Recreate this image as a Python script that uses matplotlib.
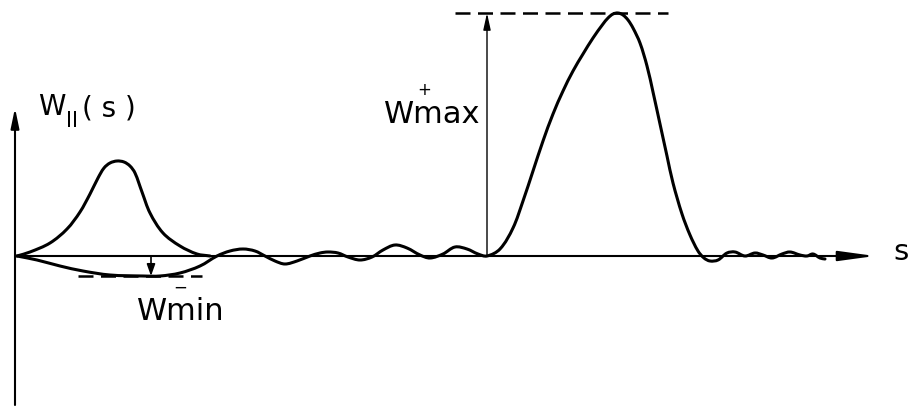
import numpy as np
import matplotlib
matplotlib.use('Agg')
import matplotlib.pyplot as plt
from matplotlib.path import Path
from matplotlib.patches import PathPatch

# wake function W(s)
# (s and W in the same arbitrary units, W measured up from the s axis)
main_s = [17, 37, 60, 83, 110, 143, 160, 180, 200, 217,
          230, 243, 255, 265, 275, 285, 297, 310, 320, 328,
          338, 348, 360, 372, 383, 395, 407, 420, 430, 443,
          455, 467, 478, 487, 500, 513, 523, 533, 543, 553,
          563, 573, 583, 593, 603, 608, 613, 618, 623, 628,
          633, 640, 647, 653, 660, 667, 673, 682, 690, 698,
          704, 710, 718, 727, 735, 745, 755, 763, 772, 782,
          790, 800, 807, 813, 820, 825]
main_w = [0, -4, -10, -15, -19, -20, -20, -17, -10, 0,
          5, 7, 5, 0, -5, -8, -5, 0, 3, 4,
          3, -1, -4, -1, 6, 11, 8, 1, -2, 2,
          9, 7, 2, 0, 7, 28, 55, 85, 115, 142,
          165, 185, 202, 218, 232, 238, 242, 243, 241, 236,
          228, 213, 190, 164, 132, 100, 73, 42, 21, 5,
          -2, -5, -4, 3, 4, 0, 3, 1, -2, 2,
          4, 1, 0, 2, -2, -3]

# the positive bump drawn on the left
bump_s = [17, 30, 50, 67, 80, 90, 98, 104, 110, 117,
          124, 130, 135, 142, 150, 163, 180, 197, 210]
bump_w = [0, 4, 13, 27, 44, 62, 78, 88, 93, 95,
          94, 90, 83, 64, 43, 23, 10, 2, 0]

w_max = 243     # W+max level
w_min = -20     # W-min level
s_at_max = 487  # where the W+max arrow stands
s_at_min = 151  # where the W-min arrow stands


def smooth_path(xs, ys):
    # smooth curve through the read points: cubic Bezier pieces whose
    # tangents follow the neighbouring points
    p = np.column_stack([xs, ys]).astype(float)
    tang = np.zeros_like(p)
    tang[1:-1] = p[2:] - p[:-2]
    tang[0] = p[1] - p[0]
    tang[-1] = p[-1] - p[-2]
    tang /= np.linalg.norm(tang, axis=1)[:, None]
    verts = [p[0]]
    codes = [Path.MOVETO]
    for i in range(len(p) - 1):
        d = np.linalg.norm(p[i + 1] - p[i]) / 3
        verts += [p[i] + tang[i] * d, p[i + 1] - tang[i + 1] * d, p[i + 1]]
        codes += [Path.CURVE4] * 3
    return Path(verts, codes)


fig = plt.figure(figsize=(9.08, 4.08), dpi=100)
ax = fig.add_axes([0, 0, 1, 1])
ax.set_xlim(0, 908)
ax.set_ylim(-152, 256)
ax.axis('off')


def arrow(start, tip, lw, hl, hw):
    ax.annotate('', xy=tip, xytext=start,
                arrowprops=dict(arrowstyle=f'-|>,head_length={hl},head_width={hw}',
                                mutation_scale=1, lw=lw, color='k',
                                shrinkA=0, shrinkB=0))


# axes
arrow((15, 0), (875, 0), 1.5, 22, 3)
arrow((15, -149), (15, 148), 1.5, 12, 2.5)

# curves
for xs, ys in [(main_s, main_w), (bump_s, bump_w)]:
    ax.add_patch(PathPatch(smooth_path(xs, ys), facecolor='none',
                           edgecolor='k', lw=2.2, joinstyle='round',
                           capstyle='round'))

# extrema markers
ax.plot([455, 668], [w_max, w_max], color='k', lw=1.8, dashes=(6, 3))
ax.plot([78, 202], [w_min, w_min], color='k', lw=1.8, dashes=(6, 3))
arrow((s_at_max, 0), (s_at_max, w_max), 1.0, 10, 2.2)
arrow((s_at_min, 0), (s_at_min, w_min), 1.2, 7, 2.5)

# labels
ax.text(38, 141, 'W', fontsize=20, va='baseline', ha='left')
ax.text(66, 129, 'II', fontsize=15, va='baseline', ha='left')
ax.text(82, 140, '( s )', fontsize=20, va='baseline', ha='left')

ax.text(384, 133, 'Wmax', fontsize=22, va='baseline', ha='left')
ax.text(424, 166, '+', fontsize=12, va='center', ha='center')

ax.text(137, -64, 'Wmin', fontsize=22, va='baseline', ha='left')
ax.text(180, -32, '\u2212', fontsize=12, va='center', ha='center')

ax.text(893, -4, 's', fontsize=21, va='baseline', ha='left')

fig.savefig('out.png', dpi=100, facecolor='white')
